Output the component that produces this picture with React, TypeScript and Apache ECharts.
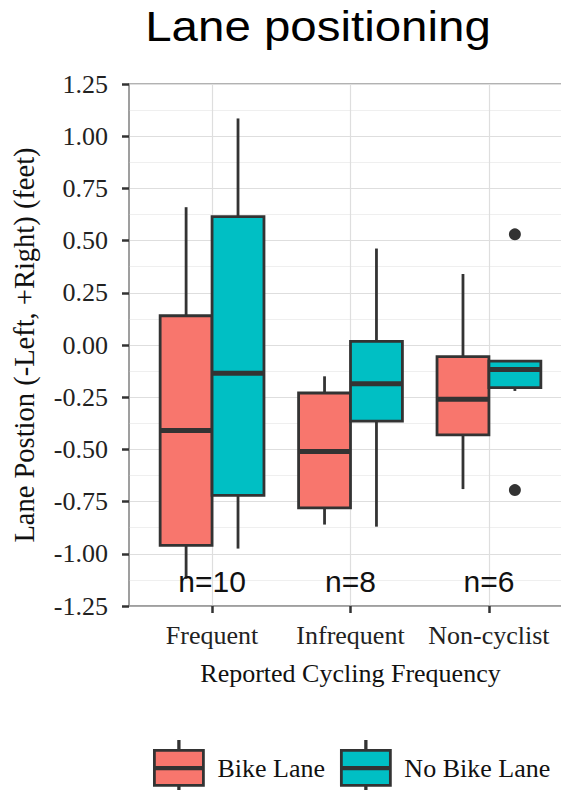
import React, { useEffect, useRef } from "react";
import * as echarts from "echarts";

// ---- data ----
const categories = ["Frequent", "Infrequent", "Non-cyclist"];
const seriesNames = ["Bike Lane", "No Bike Lane"];
// [lower whisker, Q1, median, Q3, upper whisker]
const bikeLaneStats = [
  [-1.12, -0.96, -0.41, 0.14, 0.66],
  [-0.86, -0.78, -0.51, -0.23, -0.15],
  [-0.69, -0.43, -0.26, -0.056, 0.34],
];
const noBikeLaneStats = [
  [-0.975, -0.72, -0.135, 0.615, 1.085],
  [-0.87, -0.365, -0.185, 0.017, 0.462],
  [-0.22, -0.204, -0.117, -0.077, -0.077],
];
// outliers: [category index, value]
const noBikeLaneOutliers = [
  [2, 0.53],
  [2, -0.695],
];
const nLabels = ["n=10", "n=8", "n=6"];
const nLabelValue = -1.135;
const yTicks = { min: -1.25, max: 1.25, interval: 0.25 };

const RED = "#F8766D";
const TEAL = "#00BFC4";
const DARK = "#333333";
const SERIF = "'Liberation Serif', 'Times New Roman', serif";
const SANS = "'Liberation Sans', Arial, sans-serif";
const DODGE = 0.1875;
const BOX_W = 0.375;
const CANVAS_W = 600;

const LEGEND_ICON =
  "path://M0 9 H49 V44 H0 Z M24.25 0 H24.75 V9 H24.25 Z M24.25 44 H24.75 V54 H24.25 Z M0 26 H49 V27.5 H0 Z";

function boxData(stats: number[][], offset: number) {
  return stats.map((s, i) => [i + 1 + offset, ...s]);
}

function makeRender(color: string) {
  return (params: any, api: any) => {
    const x = api.value(0);
    const pLo = api.coord([x, api.value(1)]);
    const pQ1 = api.coord([x, api.value(2)]);
    const pMed = api.coord([x, api.value(3)]);
    const pQ3 = api.coord([x, api.value(4)]);
    const pHi = api.coord([x, api.value(5)]);
    const w = api.size([BOX_W, 0])[0];
    const xc = pLo[0];
    const children: any[] = [];
    if (pHi[1] < pQ3[1] - 0.5) {
      children.push({
        type: "line",
        shape: { x1: xc, y1: pQ3[1], x2: xc, y2: pHi[1] },
        style: { stroke: DARK, lineWidth: 2.8 },
      });
    }
    if (pLo[1] > pQ1[1] + 0.5) {
      children.push({
        type: "line",
        shape: { x1: xc, y1: pLo[1], x2: xc, y2: pQ1[1] },
        style: { stroke: DARK, lineWidth: 2.8 },
      });
    }
    children.push(
      {
        type: "rect",
        shape: { x: xc - w / 2, y: pQ3[1], width: w, height: pQ1[1] - pQ3[1] },
        style: { fill: color, stroke: DARK, lineWidth: 2.8 },
      },
      {
        type: "line",
        shape: { x1: xc - w / 2, y1: pMed[1], x2: xc + w / 2, y2: pMed[1] },
        style: { stroke: DARK, lineWidth: 5 },
      }
    );
    return { type: "group", children };
  };
}

export default function App() {
  const ref = useRef<HTMLDivElement>(null);
  useEffect(() => {
    if (!ref.current) return;
    const chart = echarts.init(ref.current, null, { renderer: "svg" });
    const option: any = {
      animation: false,
      backgroundColor: "#ffffff",
      graphic: [
        {
          type: "text",
          x: 318,
          y: 26,
          scaleX: 1.13,
          style: {
            text: "Lane positioning",
            font: `42px ${SANS}`,
            fill: "#000",
            align: "center",
            verticalAlign: "middle",
          },
        },
      ],
      grid: {
        left: 129,
        right: CANVAS_W - 572,
        top: 84,
        bottom: 184,
        show: true,
        borderColor: "#999",
        borderWidth: 1.5,
        containLabel: false,
      },
      legend: {
        left: 148,
        top: 735,
        width: 440,
        itemWidth: 49,
        itemHeight: 54,
        itemGap: 15,
        selectedMode: false,
        itemStyle: { borderColor: DARK, borderWidth: 2.8 },
        textStyle: {
          fontFamily: SERIF,
          fontSize: 26,
          color: "#111",
          padding: [0, 0, 0, 9],
        },
        data: [
          { name: seriesNames[0], icon: LEGEND_ICON },
          { name: seriesNames[1], icon: LEGEND_ICON },
        ],
      },
      xAxis: {
        type: "value",
        min: 0.4,
        max: 3.6,
        name: "Reported Cycling Frequency",
        nameLocation: "middle",
        nameGap: 54,
        nameTextStyle: { fontFamily: SERIF, fontSize: 26, color: "#111" },
        axisLine: { show: true, onZero: false, lineStyle: { color: "#999", width: 1.5 } },
        axisTick: {
          show: true,
          length: 7,
          customValues: [1, 2, 3],
          lineStyle: { color: DARK, width: 2.5 },
        },
        axisLabel: {
          customValues: [1, 2, 3],
          margin: 16,
          fontFamily: SERIF,
          fontSize: 26,
          color: "#222",
          formatter: (v: number) => categories[Math.round(v) - 1] ?? "",
        },
        splitLine: { show: true, lineStyle: { color: "#dedede", width: 1.2 } },
        minorSplitLine: { show: false },
      },
      yAxis: {
        type: "value",
        min: yTicks.min,
        max: yTicks.max,
        interval: yTicks.interval,
        name: "Lane Postion (-Left, +Right) (feet)",
        nameLocation: "middle",
        nameGap: 90,
        nameTextStyle: { fontFamily: SERIF, fontSize: 28.5, color: "#111" },
        axisLine: { show: true, onZero: false, lineStyle: { color: "#999", width: 1.5 } },
        axisTick: { show: true, length: 7, lineStyle: { color: DARK, width: 2.5 } },
        axisLabel: {
          margin: 21,
          fontFamily: SERIF,
          fontSize: 26,
          color: "#222",
          formatter: (v: number) => v.toFixed(2),
        },
        splitLine: { show: true, lineStyle: { color: "#dedede", width: 1.2 } },
        minorTick: { show: false, splitNumber: 2 },
        minorSplitLine: { show: true, lineStyle: { color: "#efefef", width: 1 } },
      },
      series: [
        {
          name: seriesNames[0],
          type: "custom",
          itemStyle: { color: RED, borderColor: DARK, borderWidth: 2.8 },
          renderItem: makeRender(RED),
          encode: { x: 0, y: [1, 2, 3, 4, 5] },
          data: boxData(bikeLaneStats, -DODGE),
          z: 2,
        },
        {
          name: seriesNames[1],
          type: "custom",
          itemStyle: { color: TEAL, borderColor: DARK, borderWidth: 2.8 },
          renderItem: makeRender(TEAL),
          encode: { x: 0, y: [1, 2, 3, 4, 5] },
          data: boxData(noBikeLaneStats, DODGE),
          z: 2,
        },
        {
          name: "outliers",
          type: "scatter",
          symbol: "circle",
          symbolSize: 12,
          itemStyle: { color: DARK, opacity: 1 },
          data: noBikeLaneOutliers.map(([c, v]) => [c + 1 + DODGE, v]),
          z: 3,
        },
        {
          name: "counts",
          type: "custom",
          renderItem: (params: any, api: any) => {
            const p = api.coord([api.value(0), api.value(1)]);
            return {
              type: "text",
              x: p[0],
              y: p[1],
              style: {
                text: nLabels[params.dataIndex],
                font: `30px ${SANS}`,
                fill: "#111",
                align: "center",
                verticalAlign: "middle",
              },
            };
          },
          encode: { x: 0, y: 1 },
          data: categories.map((_, i) => [i + 1, nLabelValue]),
          z: 4,
        },
      ],
    };
    chart.setOption(option);
    return () => chart.dispose();
  }, []);
  return (
    <div
      ref={ref}
      style={{ position: "fixed", left: 0, top: 0, width: CANVAS_W, height: 790 }}
    />
  );
}
